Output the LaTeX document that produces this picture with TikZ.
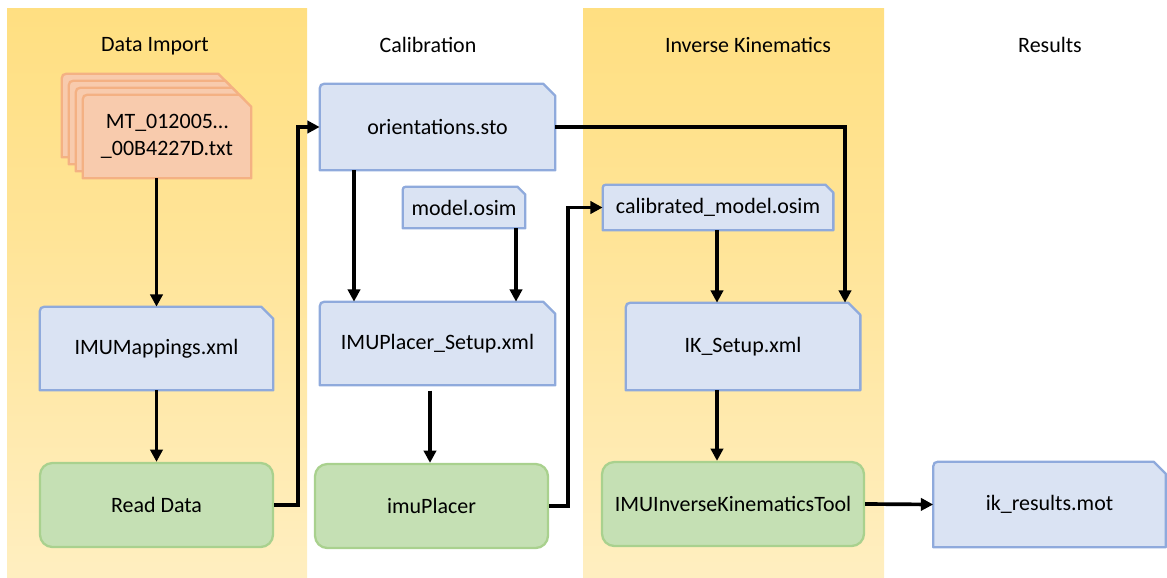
\documentclass[tikz,border=0pt]{standalone}
\usepackage{fontspec}
\setmainfont{Carlito}
\usetikzlibrary{arrows.meta,calc}
\definecolor{docfill}{HTML}{DAE3F3}
\definecolor{docline}{HTML}{8FAADC}
\definecolor{grfill}{HTML}{C5E0B4}
\definecolor{grline}{HTML}{A9D18E}
\definecolor{orfill}{HTML}{F8CBAD}
\definecolor{orline}{HTML}{F4B183}
\definecolor{bandtop}{HTML}{FFD966}
\definecolor{bandmid}{HTML}{FFE497}
\definecolor{bandbot}{HTML}{FFF9EA}
\pgfdeclareverticalshading{band}{100bp}{color(0bp)=(bandbot); color(25bp)=(bandbot!50!bandmid); color(55bp)=(bandmid); color(100bp)=(bandtop)}
\pgfdeclarelayer{bg}
\pgfdeclarelayer{mid}
\pgfsetlayers{bg,mid,main}
% name, fill, line, snip, corner radius
\newcommand\docshape[5]{%
  \filldraw[fill=#2,draw=#3,line width=1.3pt,line join=round]
    (#1.south west) -- ([yshift=-#5]#1.north west) .. controls (#1.north west) .. ([xshift=#5]#1.north west)
    -- ([xshift=-#4]#1.north east) -- ([yshift=-#4]#1.north east) -- (#1.south east) -- cycle;}
\tikzset{
  lbl/.style={font=\fontsize{12.5}{15}\selectfont, align=center},
  doc/.style 2 args={lbl, inner sep=0pt, minimum width={#1*0.02cm}, minimum height={#2*0.02cm}},
  proc/.style 2 args={doc={#1}{#2}, draw=grline, fill=grfill, line width=1.3pt, rounded corners=7pt},
  arr/.style={line width=2.1pt, -{Triangle[length=7pt,width=7pt]}},
  title/.style={lbl}
}
\begin{document}
\begin{tikzpicture}[x=0.02cm,y=0.02cm]
\useasboundingbox (0,0) rectangle (1167,-578);
\begin{pgfonlayer}{bg}
  \shade[shading=band] (7,-8) rectangle (307,-578);
  \shade[shading=band] (583,-8) rectangle (884,-578);
\end{pgfonlayer}

% titles
\node[title] (t1) at (155,-46) {Data Import};
\node[title] (t2) at (428,-45) {Calibration};
\node[title] (t3) at (748,-45) {Inverse Kinematics};
\node[title] (t4) at (1050,-45) {Results};

% stacked files
\node[doc={168}{83}] (fileD) at (146,-115.5) {};
\node[doc={168}{83}] (fileC) at (153,-122.5) {};
\node[doc={168}{83}] (fileB) at (160,-129.5) {};
\node[doc={168}{83}] (file) at (167,-136.5) {MT\_012005…\\\_00B4227D.txt};

% documents
\node[doc={233}{83}] (imumap) at (156.5,-348.5) {IMUMappings.xml};
\node[doc={235}{86}] (orient) at (437.5,-127) {orientations.sto};
\node[doc={122}{41}] (model) at (464,-207.5) {model.osim};
\node[doc={235}{83}] (placersetup) at (437.5,-343.5) {IMUPlacer\_Setup.xml};
\node[doc={230}{45}] (calib) at (718,-207.5) {calibrated\_model.osim};
\node[doc={234}{87}] (iksetup) at (743,-346.5) {IK\_Setup.xml};
\node[doc={232}{85}] (ikres) at (1049.5,-504.5) {ik\_results.mot};

% processes
\node[proc={233}{84}] (readdata) at (156.5,-505) {Read Data};
\node[proc={233}{84}] (imuplacer) at (431.5,-506) {imuPlacer};
\node[proc={262}{84}] (iktool) at (733,-504) {IMUInverseKinematicsTool};

\begin{pgfonlayer}{mid}
  \docshape{fileD}{orfill}{orline}{7pt}{6pt}
  \docshape{fileC}{orfill}{orline}{7pt}{6pt}
  \docshape{fileB}{orfill}{orline}{7pt}{6pt}
  \docshape{file}{orfill}{orline}{7pt}{6pt}
  \docshape{imumap}{docfill}{docline}{7pt}{6pt}
  \docshape{orient}{docfill}{docline}{7pt}{6pt}
  \docshape{model}{docfill}{docline}{4.5pt}{4pt}
  \docshape{placersetup}{docfill}{docline}{7pt}{6pt}
  \docshape{calib}{docfill}{docline}{4.5pt}{4pt}
  \docshape{iksetup}{docfill}{docline}{7pt}{6pt}
  \docshape{ikres}{docfill}{docline}{7pt}{6pt}
\end{pgfonlayer}

% x positions of vertical connectors
\coordinate (xa) at (354,0);
\coordinate (xb) at (516,0);
\coordinate (xc) at (430,0);
\coordinate (xd) at (845,0);
\coordinate (xe) at (717,0);
\coordinate (xf) at (298,0);
\coordinate (xg) at (568,0);

% connectors
\draw[arr] (imumap.north |- file.south) -- (imumap.north);
\draw[arr] (imumap.south) -- (readdata.north);
\draw[arr] (readdata.east) -- (readdata.east -| xf) |- (orient.west);
\draw[arr] (orient.south -| xa) -- (placersetup.north -| xa);
\draw[arr] (model.south -| xb) -- (placersetup.north -| xb);
\draw[arr] (orient.east) -| (iksetup.north -| xd);
\draw[arr] ([yshift=-3pt]placersetup.south -| xc) -- (imuplacer.north -| xc);
\draw[arr] (imuplacer.east) -- (imuplacer.east -| xg) |- (calib.west);
\draw[arr] (calib.south -| xe) -- (iksetup.north -| xe);
\draw[arr] (iksetup.south -| xe) -- (iktool.north -| xe);
\draw[arr] (iktool.east) -- (ikres.west);
\end{tikzpicture}
\end{document}
